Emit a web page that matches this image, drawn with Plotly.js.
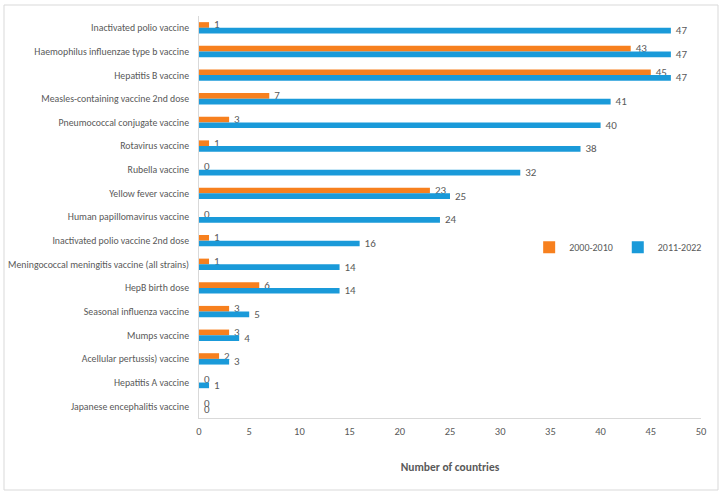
<!DOCTYPE html>
<html>
<head>
<meta charset="utf-8">
<script src="https://cdn.plot.ly/plotly-3.0.1.min.js"></script>
<style>
html,body{margin:0;padding:0;background:#fff;}
#chart{width:722px;height:495px;}
</style>
</head>
<body>
<div id="chart"></div>
<script>
const categories = [
  "Inactivated polio vaccine",
  "Haemophilus influenzae type b vaccine",
  "Hepatitis B vaccine",
  "Measles-containing vaccine 2nd dose",
  "Pneumococcal conjugate vaccine",
  "Rotavirus vaccine",
  "Rubella vaccine",
  "Yellow fever vaccine",
  "Human papillomavirus vaccine",
  "Inactivated polio vaccine 2nd dose",
  "Meningococcal meningitis vaccine (all strains)",
  "HepB birth dose",
  "Seasonal influenza vaccine",
  "Mumps vaccine",
  "Acellular pertussis) vaccine",
  "Hepatitis A vaccine",
  "Japanese encephalitis vaccine"
];
const series2000_2010 = [1, 43, 45, 7, 3, 1, 0, 23, 0, 1, 1, 6, 3, 3, 2, 0, 0];
const series2011_2022 = [47, 47, 47, 41, 40, 38, 32, 25, 24, 16, 14, 14, 5, 4, 3, 1, 0];
const seriesNames = ["2000-2010", "2011-2022"];
const xTicks = [0, 5, 10, 15, 20, 25, 30, 35, 40, 45, 50];

const FONT = "Carlito, 'Liberation Sans Narrow', 'Open Sans', sans-serif";
const GRAY = "#595959";

const traces = [
  {
    type: "bar", orientation: "h", name: seriesNames[0],
    y: categories, x: series2000_2010,
    texttemplate: "\u00a0\u00a0%{x}", textposition: "outside",
    constraintext: "none",
    textfont: {family: FONT, size: 11, color: GRAY},
    cliponaxis: false,
    marker: {color: "#F7801E"}
  },
  {
    type: "bar", orientation: "h", name: seriesNames[1],
    y: categories, x: series2011_2022,
    texttemplate: "\u00a0\u00a0%{x}", textposition: "outside",
    constraintext: "none",
    textfont: {family: FONT, size: 11, color: GRAY},
    cliponaxis: false,
    marker: {color: "#1A9AD9"}
  }
];

const layout = {
  width: 722, height: 495,
  margin: {l: 199, r: 21, t: 16, b: 77},
  paper_bgcolor: "#fff", plot_bgcolor: "#fff",
  font: {family: FONT, size: 10, color: GRAY},
  barmode: "group",
  bargap: 0.52,
  bargroupgap: 0,
  showlegend: true,
  legend: {
    orientation: "h", x: 0.835, y: 0.425, xanchor: "center", yanchor: "middle",
    font: {family: FONT, size: 10, color: GRAY},
    itemwidth: 30, bgcolor: "rgba(0,0,0,0)"
  },
  xaxis: {
    range: [0, 50], tickvals: xTicks, ticktext: xTicks.map(String),
    showgrid: false, zeroline: false,
    showline: true, linecolor: "#D9D9D9", linewidth: 1,
    ticks: "", ticklabelstandoff: 3,
    tickfont: {family: FONT, size: 10.5, color: GRAY},
    automargin: true,
    title: {text: "<b>Number of countries</b>", font: {family: FONT, size: 11.5, color: GRAY}, standoff: 26},
    fixedrange: true
  },
  yaxis: {
    type: "category", autorange: "reversed",
    showgrid: false, zeroline: false,
    showline: true, linecolor: "#D9D9D9", linewidth: 1,
    ticks: "", ticklen: 0, ticklabelstandoff: 7,
    tickfont: {family: FONT, size: 9.8, color: GRAY},
    fixedrange: true
  },
  shapes: [{
    type: "rect", xref: "paper", yref: "paper",
    x0: (4 - 199) / 502, x1: (718 - 199) / 502,
    y0: (418 - 490) / 402, y1: (418 - 5) / 402,
    line: {color: "#D9D9D9", width: 1}, fillcolor: "rgba(0,0,0,0)", layer: "below"
  }]
};

Plotly.newPlot("chart", traces, layout, {displayModeBar: false, staticPlot: true});
</script>
</body>
</html>
